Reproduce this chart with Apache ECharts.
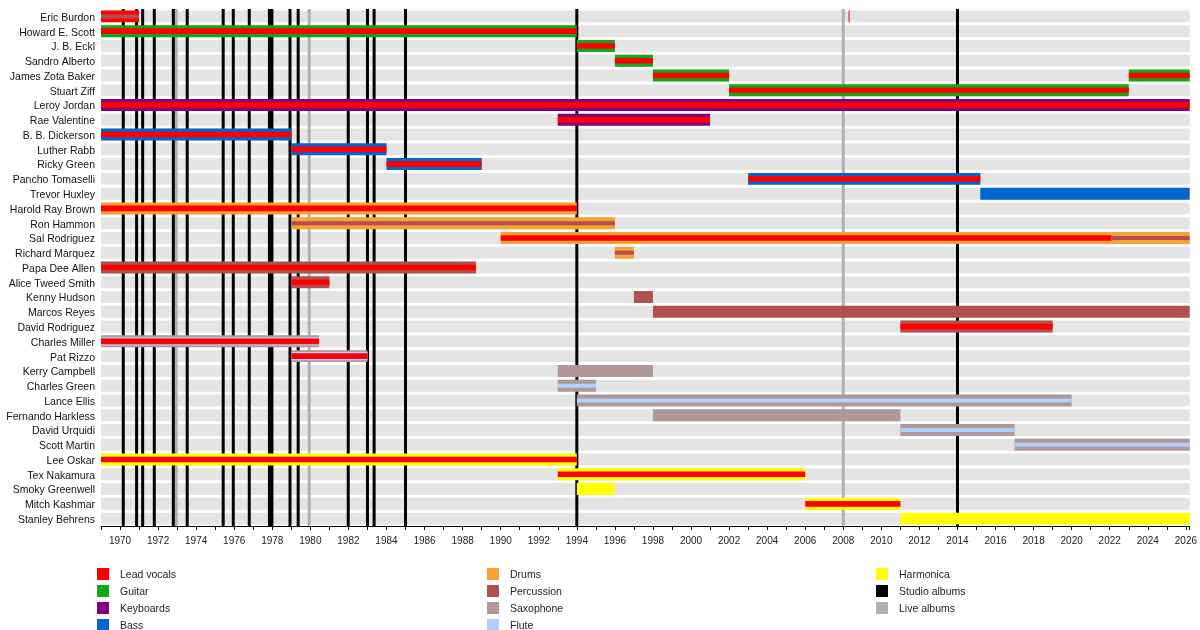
<!DOCTYPE html>
<html><head><meta charset="utf-8">
<script src="https://cdn.jsdelivr.net/npm/echarts@6/dist/echarts.min.js"></script>
<style>html,body{margin:0;padding:0;background:#fff}#c{width:1200px;height:630px}</style>
</head><body><div id="c"></div>
<script>
const categories = ['Eric Burdon','Howard E. Scott','J. B. Eckl','Sandro Alberto','James Zota Baker','Stuart Ziff','Leroy Jordan','Rae Valentine','B. B. Dickerson','Luther Rabb','Ricky Green','Pancho Tomaselli','Trevor Huxley','Harold Ray Brown','Ron Hammon','Sal Rodriguez','Richard Marquez','Papa Dee Allen','Alice Tweed Smith','Kenny Hudson','Marcos Reyes','David Rodriguez','Charles Miller','Pat Rizzo','Kerry Campbell','Charles Green','Lance Ellis','Fernando Harkless','David Urquidi','Scott Martin','Lee Oskar','Tex Nakamura','Smoky Greenwell','Mitch Kashmar','Stanley Behrens'];
const instruments = ['Lead vocals','Guitar','Keyboards','Bass','Drums','Percussion','Saxophone','Flute','Harmonica'];
const START = 1969;
const PRESENT = 2026.2;
// [member, start, end, instruments (main first)]
const periods = [
  ['Eric Burdon', 1969, 1971, ['Lead vocals','Percussion']],
  ['Eric Burdon', 2008.28, 2008.33, ['Lead vocals']],
  ['Howard E. Scott', 1969, 1994, ['Guitar','Lead vocals']],
  ['J. B. Eckl', 1994, 1996, ['Guitar','Lead vocals']],
  ['Sandro Alberto', 1996, 1998, ['Guitar','Lead vocals']],
  ['James Zota Baker', 1998, 2002, ['Guitar','Lead vocals']],
  ['James Zota Baker', 2023, PRESENT, ['Guitar','Lead vocals']],
  ['Stuart Ziff', 2002, 2023, ['Guitar','Lead vocals']],
  ['Leroy Jordan', 1969, PRESENT, ['Keyboards','Lead vocals']],
  ['Rae Valentine', 1993, 2001, ['Keyboards','Lead vocals']],
  ['B. B. Dickerson', 1969, 1979, ['Bass','Lead vocals']],
  ['Luther Rabb', 1979, 1984, ['Bass','Lead vocals']],
  ['Ricky Green', 1984, 1989, ['Bass','Lead vocals']],
  ['Pancho Tomaselli', 2003, 2015.2, ['Bass','Lead vocals']],
  ['Trevor Huxley', 2015.2, PRESENT, ['Bass']],
  ['Harold Ray Brown', 1969, 1994, ['Drums','Lead vocals']],
  ['Ron Hammon', 1979, 1996, ['Drums','Percussion']],
  ['Sal Rodriguez', 1990, 2022.1, ['Drums','Lead vocals']],
  ['Sal Rodriguez', 2022.1, PRESENT, ['Drums','Percussion']],
  ['Richard Marquez', 1996, 1997, ['Drums','Percussion']],
  ['Papa Dee Allen', 1969, 1988.7, ['Percussion','Lead vocals']],
  ['Alice Tweed Smith', 1979, 1981, ['Percussion','Lead vocals']],
  ['Kenny Hudson', 1997, 1998, ['Percussion']],
  ['Marcos Reyes', 1998, PRESENT, ['Percussion']],
  ['David Rodriguez', 2011, 2019, ['Percussion','Lead vocals']],
  ['Charles Miller', 1969, 1980.45, ['Saxophone','Flute','Lead vocals']],
  ['Pat Rizzo', 1979, 1983, ['Saxophone','Flute','Lead vocals']],
  ['Kerry Campbell', 1993, 1998, ['Saxophone']],
  ['Charles Green', 1993, 1995, ['Saxophone','Flute']],
  ['Lance Ellis', 1994, 2020, ['Saxophone','Flute']],
  ['Fernando Harkless', 1998, 2011, ['Saxophone']],
  ['David Urquidi', 2011, 2017, ['Saxophone','Flute']],
  ['Scott Martin', 2017, PRESENT, ['Saxophone','Flute']],
  ['Lee Oskar', 1969, 1994, ['Harmonica','Lead vocals']],
  ['Tex Nakamura', 1993, 2006, ['Harmonica','Lead vocals']],
  ['Smoky Greenwell', 1994, 1996, ['Harmonica']],
  ['Mitch Kashmar', 2006, 2011, ['Harmonica','Lead vocals']],
  ['Stanley Behrens', 2011, PRESENT, ['Harmonica']]
];
const studioAlbums = [1970.17, 1970.87, 1971.19, 1971.8, 1972.8, 1973.53, 1975.42, 1975.95, 1976.79, 1977.85, 1977.98, 1978.93, 1979.36, 1981.99, 1983.0, 1983.35, 1985.0, 1994.0, 2014.0];
const liveAlbums = [1972.95, 1979.94, 2008.0];
const legendColumns = [
  ['Lead vocals','Guitar','Keyboards','Bass'],
  ['Drums','Percussion','Saxophone','Flute'],
  ['Harmonica','Studio albums','Live albums']
];

const colors = {
  'Lead vocals':'#ff0000','Guitar':'#11a811','Keyboards':'#800080','Bass':'#0066cc',
  'Drums':'#f9a131','Percussion':'#b05050','Saxophone':'#b09898','Flute':'#b0d0ff',
  'Harmonica':'#ffff00','Studio albums':'#000000','Live albums':'#b0b0b0'
};
const FONT = "'Liberation Sans', Arial, sans-serif";

// build bar data: [start, end, row, instrumentIndex, layer, layerCount]
const barData = [];
periods.forEach(p => {
  const row = categories.indexOf(p[0]);
  p[3].forEach((ins, k) => barData.push([p[1], p[2], row, instruments.indexOf(ins), k, p[3].length]));
});
barData.sort((a,b) => a[4]-b[4]);

const chart = echarts.init(document.getElementById('c'), null, {renderer:'canvas'});

function bandRender(params, api){
  const cs = params.coordSys;
  const c = api.coord([START, api.value(0)]);
  const h = api.size([0,1])[1];
  const bh = h*0.81;
  return {type:'rect', shape:{x:cs.x, y:c[1]-bh/2, width:cs.width, height:bh}, style:{fill:'#e4e4e4'}, silent:true};
}
function lineRender(color){
  return function(params, api){
    const cs = params.coordSys;
    const x = api.coord([api.value(0), 0])[0];
    return {type:'rect', shape:{x:x-1.5, y:cs.y, width:3, height:cs.height}, style:{fill:color}};
  };
}
function barRender(params, api){
  const s = api.coord([api.value(0), api.value(2)]);
  const e = api.coord([api.value(1), api.value(2)]);
  const h = api.size([0,1])[1];
  const layer = api.value(4), n = api.value(5);
  const ins = instruments[api.value(3)];
  let bh;
  if (layer === 0) bh = h*0.81;
  else if (n === 3 && layer === 1) bh = h*0.56;
  else if (ins === 'Lead vocals') bh = h*0.38;
  else bh = h*0.27;
  return {type:'rect', z2: layer, shape:{x:s[0], y:s[1]-bh/2, width:Math.max(e[0]-s[0],1), height:bh}, style:{fill:colors[ins]}};
}

const series = [
  {type:'custom', name:'bands', renderItem:bandRender, data:categories.map((c,i)=>[i]), silent:true, z:1},
  {type:'custom', name:'Live albums', renderItem:lineRender(colors['Live albums']), data:liveAlbums.map(v=>[v]), z:2},
  {type:'custom', name:'Studio albums', renderItem:lineRender(colors['Studio albums']), data:studioAlbums.map(v=>[v]), z:2},
  {type:'custom', name:'bars', renderItem:barRender, data:barData, clip:true, z:3}
];

// legend drawn as graphic elements from legendColumns
const legendX = [97, 487, 876];
const legendGraphics = [];
legendColumns.forEach((col, ci) => {
  col.forEach((name, ri) => {
    const top = 568 + ri*17;
    legendGraphics.push({type:'rect', left:legendX[ci], top:top, shape:{width:12, height:12}, style:{fill:colors[name]}, silent:true});
    legendGraphics.push({type:'text', x:legendX[ci]+23, y:top+7, style:{text:name, fill:'#222', font:"10.5px 'Liberation Sans', Arial, sans-serif", textVerticalAlign:'middle', verticalAlign:'middle'}, silent:true});
  });
});

chart.setOption({
  animation:false,
  backgroundColor:'#fff',
  grid:{left:101, right:10, top:9, bottom:104, containLabel:false},
  xAxis:{type:'value', min:START, max:PRESENT, interval:1,
    axisLine:{show:true, lineStyle:{color:'#000', width:1}},
    axisTick:{show:true, length:4, lineStyle:{color:'#000'}},
    splitLine:{show:false},
    axisLabel:{fontFamily:FONT, fontSize:10, color:'#222', margin:10,
      formatter: v => (Number.isInteger(v) && v % 2 === 0) ? String(v) : ''}},
  yAxis:{type:'category', data:categories, inverse:true,
    axisLine:{show:false}, axisTick:{show:false}, splitLine:{show:false},
    axisLabel:{fontFamily:FONT, fontSize:10.5, color:'#111', margin:6, interval:0,
      formatter: v => '{a|' + v + '}',
      rich:{a:{fontFamily:FONT, fontSize:10.5, color:'#111', padding:[3,0,0,0]}}}},
  graphic: legendGraphics,
  series: series
});
</script></body></html>
